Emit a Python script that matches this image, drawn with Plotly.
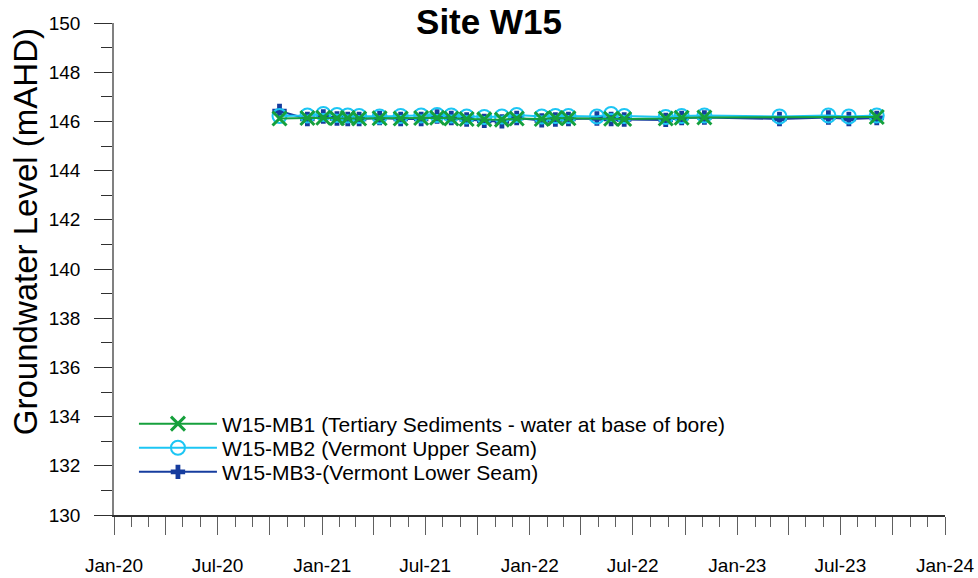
import plotly.graph_objects as go

# Sampling dates for the three monitoring bores at site W15
dates_all = [
    "2020-10-18", "2020-12-06", "2021-01-03", "2021-01-27", "2021-02-15",
    "2021-03-07", "2021-04-12", "2021-05-19", "2021-06-24", "2021-07-22",
    "2021-08-16", "2021-09-12", "2021-10-13", "2021-11-13", "2021-12-09",
    "2022-01-22", "2022-02-15", "2022-03-10", "2022-04-29", "2022-05-24",
    "2022-06-16", "2022-08-28", "2022-09-25", "2022-11-04", "2023-03-16",
    "2023-06-10", "2023-07-16", "2023-09-03",
]
dates_mb1 = [
    "2020-10-18", "2020-12-06", "2021-01-03", "2021-01-27", "2021-02-15",
    "2021-03-07", "2021-04-12", "2021-05-19", "2021-06-24", "2021-07-22",
    "2021-08-16", "2021-09-12", "2021-10-13", "2021-11-13", "2021-12-09",
    "2022-01-22", "2022-02-15", "2022-03-10", "2022-05-24", "2022-06-16",
    "2022-08-28", "2022-09-25", "2022-11-04", "2023-09-03",
]

# Groundwater levels (mAHD)
mb1_levels = [
    146.12, 146.14, 146.15, 146.13, 146.14, 146.12, 146.13, 146.12,
    146.14, 146.15, 146.12, 146.10, 146.08, 146.07, 146.12, 146.10,
    146.14, 146.13, 146.11, 146.10, 146.12, 146.15, 146.16, 146.18,
]
mb2_levels = [
    146.22, 146.24, 146.30, 146.26, 146.24, 146.22, 146.20, 146.22,
    146.24, 146.26, 146.24, 146.20, 146.18, 146.20, 146.26, 146.20,
    146.22, 146.22, 146.20, 146.30, 146.22, 146.18, 146.22, 146.24,
    146.20, 146.24, 146.20, 146.24,
]
mb3_levels = [
    146.42, 146.10, 146.20, 146.12, 146.10, 146.10, 146.14, 146.10,
    146.10, 146.20, 146.14, 146.08, 146.02, 146.00, 146.14, 146.04,
    146.08, 146.10, 146.12, 146.10, 146.08, 146.06, 146.14, 146.16,
    146.10, 146.16, 146.10, 146.14,
]

names = [
    "W15-MB1 (Tertiary Sediments - water at base of bore)",
    "W15-MB2 (Vermont Upper Seam)",
    "W15-MB3-(Vermont Lower Seam)",
]

# Quarterly x ticks, labelled every six months
x_tickvals = [
    "2020-01-01", "2020-04-01", "2020-07-01", "2020-10-01",
    "2021-01-01", "2021-04-01", "2021-07-01", "2021-10-01",
    "2022-01-01", "2022-04-01", "2022-07-01", "2022-10-01",
    "2023-01-01", "2023-04-01", "2023-07-01", "2023-10-01",
    "2024-01-01",
]
x_ticktext = [
    "Jan-20", "", "Jul-20", "",
    "Jan-21", "", "Jul-21", "",
    "Jan-22", "", "Jul-22", "",
    "Jan-23", "", "Jul-23", "",
    "Jan-24",
]

GREEN = "#16A03C"
CYAN = "#1CC6F4"
NAVY = "#163C9E"

fig = go.Figure()

fig.add_trace(go.Scatter(
    x=dates_all, y=mb3_levels, name=names[2], mode="lines+markers",
    line=dict(color=NAVY, width=2),
    marker=dict(symbol="cross", size=12, color=NAVY),
    legend="legend3",
))
fig.add_trace(go.Scatter(
    x=dates_all, y=mb2_levels, name=names[1], mode="lines+markers",
    line=dict(color=CYAN, width=2),
    marker=dict(symbol="circle-open", size=14, color=CYAN, line=dict(width=2)),
    legend="legend2",
))
fig.add_trace(go.Scatter(
    x=dates_mb1, y=mb1_levels, name=names[0], mode="lines+markers",
    line=dict(color=GREEN, width=2),
    marker=dict(symbol="x-thin", size=14, color=GREEN,
                line=dict(width=3, color=GREEN)),
    legend="legend",
))

# One legend box per series so the rows sit close together
legend_style = dict(x=0.024, xanchor="left", yanchor="middle",
                    bgcolor="rgba(0,0,0,0)", font=dict(size=21),
                    itemwidth=78)

fig.update_layout(
    width=978, height=578,
    margin=dict(l=114, r=33, t=23, b=63),
    paper_bgcolor="white", plot_bgcolor="white",
    font=dict(family="Arial, Liberation Sans, sans-serif", size=19, color="black"),
    title=dict(text="<b>Site W15</b>", x=0.5, xanchor="center",
               y=0.962, yanchor="middle", font=dict(size=35)),
    showlegend=True,
    legend=dict(y=0.185, **legend_style),
    legend2=dict(y=0.136, **legend_style),
    legend3=dict(y=0.087, **legend_style),
    annotations=[dict(
        text="Groundwater Level (mAHD)", textangle=-90,
        xref="paper", yref="paper", x=-0.107, y=0.575,
        xanchor="center", yanchor="middle", showarrow=False,
        font=dict(size=33),
    )],
)

fig.update_xaxes(
    range=["2020-01-01", "2024-01-01"],
    tickvals=x_tickvals, ticktext=x_ticktext,
    ticks="outside", ticklen=18, tickwidth=1.3, tickcolor="#606060",
    ticklabelstandoff=14, automargin=False,
    showline=True, linecolor="#303030", linewidth=1.5,
    showgrid=False, zeroline=False,
    minor=dict(dtick="M1", tick0="2020-01-01", ticks="outside",
               ticklen=10, tickwidth=1.3, tickcolor="#606060", showgrid=False),
    tickfont=dict(size=19),
)

fig.update_yaxes(
    range=[130, 150], dtick=2, tick0=130,
    ticks="outside", ticklen=18, tickwidth=1.3, tickcolor="#303030",
    ticklabelstandoff=10, automargin=False,
    showline=True, linecolor="#808080", linewidth=1.5,
    showgrid=False, zeroline=False,
    minor=dict(dtick=1, ticks="outside", ticklen=11, tickwidth=1.3,
               tickcolor="#303030", showgrid=False),
    tickfont=dict(size=19),
)

fig.write_html("out.html")
